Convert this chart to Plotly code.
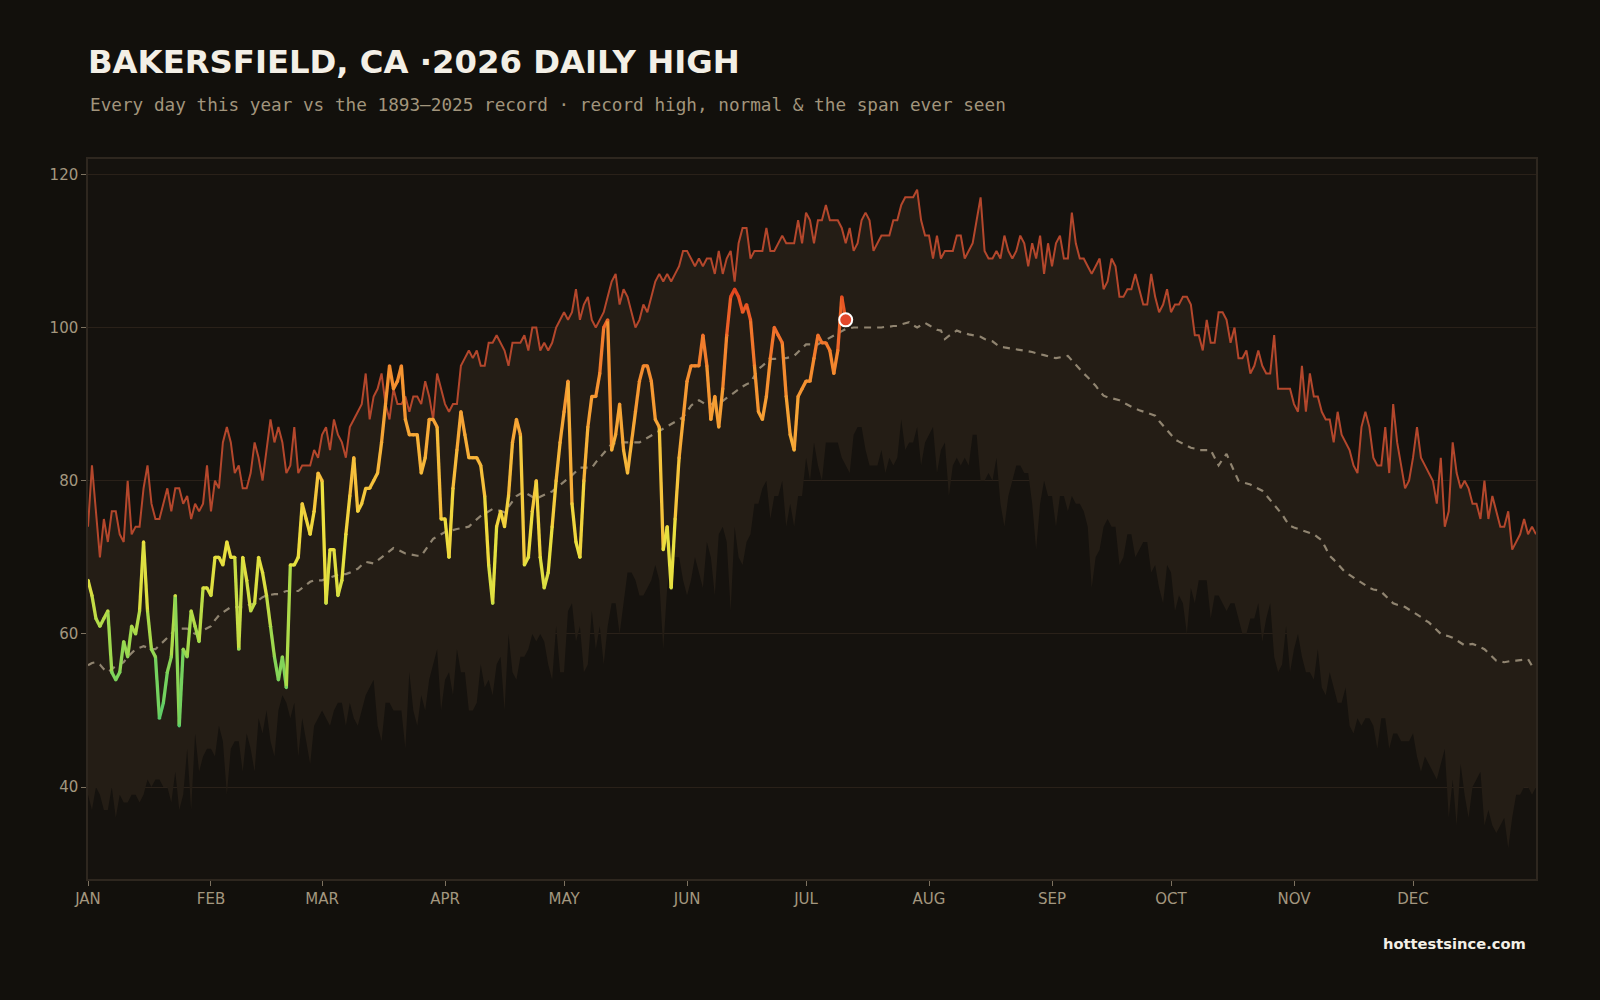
import plotly.graph_objects as go

# ---------------- data ----------------
MONTH_LABELS = ["JAN", "FEB", "MAR", "APR", "MAY", "JUN", "JUL", "AUG", "SEP", "OCT", "NOV", "DEC"]
MONTH_START_DAY = [0, 31, 59, 90, 120, 151, 181, 212, 243, 273, 304, 334]
Y_TICKS = [40, 60, 80, 100, 120]

DAYS = list(range(366))

RECORD_HIGH = [
    74, 82, 76, 70, 75, 72, 76, 76, 73, 72, 80, 73, 74, 74, 79, 82, 77, 75, 75, 77, 79, 76, 79, 79, 77, 78, 75, 77, 76, 77,
    82, 76, 80, 79, 85, 87, 85, 81, 82, 79, 79, 81, 85, 83, 80, 84, 88, 85, 87, 85, 81, 82, 87, 81, 82, 82, 82, 84, 83, 86,
    87, 84, 88, 86, 85, 83, 87, 88, 89, 90, 94, 88, 91, 92, 94, 90, 88, 92, 90, 90, 91, 89, 91, 91, 90, 93, 91, 88, 94, 92,
    90, 89, 90, 90, 95, 96, 97, 96, 97, 95, 95, 98, 98, 99, 98, 97, 95, 98, 98, 98, 99, 97, 100, 100, 97, 98, 97, 98, 100, 101,
    102, 101, 102, 105, 101, 103, 104, 101, 100, 101, 102, 104, 106, 107, 103, 105, 104, 102, 100, 101, 103, 102, 104, 106, 107, 106, 107, 106, 107, 108,
    110, 110, 109, 108, 109, 108, 109, 109, 107, 110, 107, 109, 110, 106, 111, 113, 113, 109, 110, 110, 110, 113, 110, 110, 111, 112, 111, 111, 111, 114,
    111, 115, 114, 111, 114, 114, 116, 114, 114, 114, 113, 111, 113, 110, 111, 114, 115, 114, 110, 111, 112, 112, 112, 114, 114, 116, 117, 117, 117, 118,
    114, 112, 112, 109, 112, 109, 110, 110, 110, 112, 112, 109, 110, 111, 114, 117, 110, 109, 109, 110, 109, 112, 110, 109, 110, 112, 111, 108, 111, 109,
    112, 107, 111, 108, 111, 112, 109, 109, 115, 111, 109, 109, 108, 107, 108, 109, 105, 106, 109, 108, 104, 104, 105, 105, 107, 105, 103, 103, 107, 104,
    102, 103, 105, 102, 103, 103, 104, 104, 103, 99, 99, 97, 101, 98, 98, 102, 102, 101, 98, 100, 96, 96, 97, 94, 95, 97, 95, 94, 94, 99,
    92, 92, 92, 92, 90, 89, 95, 89, 94, 91, 91, 89, 88, 88, 85, 89, 86, 85, 84, 82, 81, 87, 89, 87, 83, 82, 82, 87, 81, 90,
    85, 82, 79, 80, 83, 87, 83, 82, 81, 80, 77, 83, 74, 76, 85, 81, 79, 80, 79, 77, 77, 75, 80, 75, 78, 76, 74, 74, 76, 71,
    72, 73, 75, 73, 74, 73,
]

RECORD_LOW = [
    39, 37, 40, 39, 37, 37, 40, 36, 39, 38, 38, 39, 39, 38, 39, 41, 40, 41, 41, 40, 40, 38, 42, 37, 39, 45, 37, 47, 42, 44,
    45, 45, 44, 48, 46, 39, 45, 46, 46, 42, 47, 45, 42, 49, 47, 50, 46, 44, 50, 52, 51, 49, 51, 44, 49, 46, 43, 48, 49, 50,
    49, 48, 50, 51, 51, 48, 51, 49, 48, 50, 52, 53, 54, 48, 46, 51, 51, 50, 50, 50, 45, 55, 50, 48, 52, 50, 54, 56, 58, 50,
    54, 55, 52, 58, 55, 55, 50, 50, 51, 56, 53, 54, 52, 56, 57, 50, 60, 55, 54, 57, 57, 58, 60, 59, 60, 59, 56, 54, 61, 55,
    55, 63, 64, 59, 61, 55, 56, 63, 58, 61, 56, 61, 64, 64, 60, 64, 68, 68, 67, 65, 65, 66, 67, 69, 67, 58, 66, 70, 70, 70,
    67, 65, 67, 70, 68, 66, 72, 70, 65, 73, 74, 72, 63, 74, 70, 69, 72, 73, 77, 77, 79, 80, 75, 78, 78, 80, 74, 77, 74, 78,
    78, 83, 80, 85, 82, 80, 85, 85, 85, 85, 83, 82, 81, 86, 87, 87, 84, 82, 82, 82, 84, 81, 83, 82, 83, 88, 84, 85, 85, 87,
    82, 85, 86, 87, 81, 84, 85, 78, 82, 83, 82, 83, 82, 86, 86, 80, 80, 81, 80, 83, 77, 74, 78, 80, 82, 82, 81, 81, 77, 71,
    77, 80, 78, 78, 74, 78, 78, 76, 78, 77, 77, 76, 74, 66, 70, 71, 74, 75, 74, 74, 69, 70, 73, 73, 70, 71, 72, 72, 68, 69,
    66, 64, 69, 68, 63, 65, 64, 60, 66, 64, 67, 67, 67, 62, 65, 65, 64, 63, 64, 64, 62, 60, 60, 62, 62, 64, 59, 62, 64, 57,
    55, 56, 61, 55, 58, 60, 57, 55, 55, 54, 58, 53, 52, 55, 53, 51, 51, 53, 48, 47, 49, 48, 49, 49, 48, 45, 49, 49, 45, 47,
    47, 46, 46, 46, 47, 44, 42, 44, 43, 42, 41, 43, 45, 36, 41, 35, 43, 39, 36, 40, 41, 42, 35, 37, 35, 34, 35, 36, 32, 36,
    39, 39, 40, 40, 39, 40,
]

NORMAL = [
    55.9, 56.2, 56.3, 56.0, 55.4, 55.0, 55.4, 55.8, 56.0, 56.3, 57.0, 57.5, 58.0, 58.2, 58.4, 58.2, 58.0, 58.0, 58.5, 59.0,
    59.4, 60.0, 60.7, 60.7, 60.7, 60.7, 60.3, 60.0, 60.2, 60.5, 60.8, 61.0, 61.8, 62.4, 62.8, 63.2, 63.5, 63.5, 63.5, 63.5,
    63.7, 63.9, 64.0, 64.4, 64.8, 65.0, 65.1, 65.2, 65.2, 65.4, 65.6, 65.6, 65.6, 65.6, 66.0, 66.4, 66.8, 67.0, 67.0, 67.0,
    67.2, 67.4, 67.6, 67.7, 67.8, 67.8, 68.0, 68.3, 68.5, 69.0, 69.4, 69.3, 69.2, 69.6, 70.0, 70.4, 70.8, 71.2, 71.0, 70.7,
    70.5, 70.4, 70.3, 70.2, 70.2, 70.9, 71.7, 72.4, 72.7, 73.0, 73.3, 73.4, 73.6, 73.7, 73.8, 73.9, 74.0, 74.5, 75.0, 75.4,
    75.7, 76.0, 76.3, 76.2, 76.0, 75.9, 76.6, 77.3, 78.0, 78.3, 78.5, 78.2, 77.9, 77.6, 77.9, 78.2, 78.4, 78.6, 79.0, 79.4,
    79.8, 80.2, 80.7, 81.2, 81.7, 81.7, 81.7, 81.7, 82.4, 83.0, 83.7, 84.2, 84.8, 84.9, 85.0, 85.0, 85.0, 85.0, 85.0, 85.0,
    85.3, 85.6, 85.9, 86.2, 86.5, 86.8, 87.1, 87.4, 87.7, 88.0, 88.3, 89.0, 89.8, 90.2, 90.5, 90.2, 89.8, 90.0, 90.1, 90.3,
    90.4, 90.8, 91.2, 91.6, 92.0, 92.3, 92.6, 92.8, 93.7, 94.6, 95.0, 95.5, 95.9, 95.9, 96.0, 96.0, 96.0, 96.2, 96.3, 96.8,
    97.3, 97.8, 97.8, 97.8, 97.8, 98.1, 98.4, 98.7, 98.9, 99.2, 99.5, 99.8, 99.9, 100.0, 100.0, 100.0, 100.0, 100.0, 100.0, 100.0,
    100.0, 100.1, 100.1, 100.2, 100.2, 100.4, 100.6, 100.7, 100.3, 100.0, 100.3, 100.6, 100.3, 100.0, 99.7, 99.6, 98.5, 98.9, 99.3, 99.6,
    99.4, 99.2, 99.1, 99.0, 98.9, 98.8, 98.5, 98.3, 98.2, 97.8, 97.5, 97.4, 97.3, 97.2, 97.1, 97.0, 96.9, 96.9, 96.8, 96.6,
    96.5, 96.4, 96.2, 96.1, 96.0, 96.1, 96.2, 96.3, 95.7, 95.1, 94.5, 94.0, 93.5, 93.0, 92.4, 91.7, 91.1, 90.9, 90.8, 90.6,
    90.5, 90.2, 89.9, 89.6, 89.4, 89.2, 89.0, 88.8, 88.7, 88.5, 87.8, 87.2, 86.5, 86.0, 85.4, 85.1, 84.8, 84.5, 84.3, 84.2,
    84.0, 84.0, 84.0, 84.0, 83.0, 82.0, 82.8, 83.5, 82.3, 81.2, 80.0, 79.8, 79.7, 79.5, 79.2, 79.0, 78.7, 78.1, 77.5, 76.9,
    76.3, 75.6, 74.8, 74.1, 73.9, 73.7, 73.5, 73.3, 73.2, 73.0, 72.6, 72.2, 71.2, 70.2, 69.7, 69.1, 68.6, 68.0, 67.7, 67.3,
    67.0, 66.7, 66.3, 66.0, 65.8, 65.7, 65.5, 65.0, 64.5, 64.0, 63.8, 63.7, 63.5, 63.2, 62.8, 62.5, 62.2, 61.8, 61.5, 61.0,
    60.5, 60.0, 59.8, 59.7, 59.5, 59.2, 58.8, 58.5, 58.6, 58.7, 58.5, 58.2, 58.0, 57.5, 57.0, 56.5, 56.4, 56.3, 56.4, 56.5,
    56.5, 56.6, 56.6, 56.7, 55.8, 55.5,
]

THIS_YEAR = [
    67, 65, 62, 61, 62, 63, 55, 54, 55, 59, 57, 61, 60, 63, 72, 63, 58, 57, 49, 51, 55, 57, 65, 48, 58, 57, 63, 61, 59, 66,
    66, 65, 70, 70, 69, 72, 70, 70, 58, 70, 67, 63, 64, 70, 68, 65, 61, 57, 54, 57, 53, 69, 69, 70, 77, 75, 73, 76, 81, 80,
    64, 71, 71, 65, 67, 73, 78, 83, 76, 77, 79, 79, 80, 81, 85, 90, 95, 92, 93, 95, 88, 86, 86, 86, 81, 83, 88, 88, 87, 75,
    75, 70, 79, 84, 89, 86, 83, 83, 83, 82, 78, 69, 64, 74, 76, 74, 78, 85, 88, 86, 69, 70, 76, 80, 70, 66, 68, 74, 80, 85,
    89, 93, 77, 72, 70, 80, 87, 91, 91, 94, 100, 101, 84, 86, 90, 84, 81, 85, 89, 93, 95, 95, 93, 88, 87, 71, 74, 66, 75, 83,
    88, 93, 95, 95, 95, 99, 95, 88, 91, 87, 92, 99, 104, 105, 104, 102, 103, 101, 95, 89, 88, 91, 96, 100, 99, 98, 91, 86, 84, 91,
    92, 93, 93, 96, 99, 98, 98, 97, 94, 97, 104, 101,
]
THIS_YEAR_DAYS = DAYS[:len(THIS_YEAR)]

# ---------------- styling ----------------
PAPER = "#12100c"
PLOT_BG = "#15120e"
BAND = "#241d15"
REC_HIGH_COLOR = "#b4472c"
NORMAL_COLOR = "#a39780"
TICK_COLOR = "#a3977f"
TITLE_COLOR = "#f3efe6"

# temperature -> colour stops for the current-year line
COLOR_STOPS = [
    (47, (78, 201, 112)), (54, (122, 211, 92)), (60, (165, 218, 75)), (66, (217, 223, 66)),
    (72, (237, 224, 63)), (78, (245, 200, 61)), (84, (247, 176, 57)), (90, (246, 156, 51)),
    (95, (244, 137, 47)), (100, (239, 106, 42)), (105, (226, 68, 31)),
]


def temp_color(v):
    if v <= COLOR_STOPS[0][0]:
        c = COLOR_STOPS[0][1]
    elif v >= COLOR_STOPS[-1][0]:
        c = COLOR_STOPS[-1][1]
    else:
        for (v0, c0), (v1, c1) in zip(COLOR_STOPS[:-1], COLOR_STOPS[1:]):
            if v0 <= v <= v1:
                t = (v - v0) / (v1 - v0)
                c = tuple(round(a + (b - a) * t) for a, b in zip(c0, c1))
                break
    return "rgb(%d,%d,%d)" % c


fig = go.Figure()

# record span band (record low -> record high)
fig.add_trace(go.Scatter(
    x=DAYS, y=RECORD_LOW, mode="lines",
    line=dict(width=0, color="rgba(0,0,0,0)"),
    hoverinfo="skip", showlegend=False,
))
fig.add_trace(go.Scatter(
    x=DAYS, y=RECORD_HIGH, mode="lines", fill="tonexty", fillcolor=BAND,
    line=dict(color=REC_HIGH_COLOR, width=2),
    hoverinfo="skip", showlegend=False,
))

# normal
fig.add_trace(go.Scatter(
    x=DAYS, y=NORMAL, mode="lines",
    line=dict(color=NORMAL_COLOR, width=2.2, dash="7px,6px"),
    opacity=0.85,
    hoverinfo="skip", showlegend=False,
))

# this year, coloured segment by segment
LINE_W = 3.3
for i in range(len(THIS_YEAR) - 1):
    a, b = THIS_YEAR[i], THIS_YEAR[i + 1]
    fig.add_trace(go.Scatter(
        x=THIS_YEAR_DAYS[i:i + 2], y=THIS_YEAR[i:i + 2], mode="lines",
        line=dict(color=temp_color((a + b) / 2), width=LINE_W),
        hoverinfo="skip", showlegend=False,
    ))
fig.add_trace(go.Scatter(
    x=THIS_YEAR_DAYS, y=THIS_YEAR, mode="markers",
    marker=dict(size=LINE_W, color=[temp_color(v) for v in THIS_YEAR], line=dict(width=0)),
    hoverinfo="skip", showlegend=False,
))

# latest day marker
fig.add_trace(go.Scatter(
    x=THIS_YEAR_DAYS[-1:], y=THIS_YEAR[-1:], mode="markers",
    marker=dict(size=13, color="#e2472b", line=dict(color="#ffffff", width=2)),
    hoverinfo="skip", showlegend=False,
))

PLOT_L, PLOT_R, PLOT_T, PLOT_B = 88, 1536, 159, 879
PLOT_H = PLOT_B - PLOT_T
PLOT_W = PLOT_R - PLOT_L

fig.update_layout(
    width=1600, height=1000,
    paper_bgcolor=PAPER, plot_bgcolor=PLOT_BG,
    margin=dict(l=PLOT_L, r=1600 - PLOT_R, t=PLOT_T, b=1000 - PLOT_B, pad=0),
    showlegend=False,
    hovermode=False,
    title=dict(
        text="BAKERSFIELD, CA ·2026 DAILY HIGH",
        x=PLOT_L / 1600, xref="container", xanchor="left",
        y=1 - 62 / 1000, yref="container", yanchor="middle",
        font=dict(family="DejaVu Sans", size=32.3, color=TITLE_COLOR, weight=700),
    ),
    annotations=[
        dict(
            text="Every day this year vs the 1893–2025 record · record high, normal & the span ever seen",
            x=0, xref="paper", xanchor="left",
            y=1 + (PLOT_T - 105) / PLOT_H, yref="paper", yanchor="middle",
            showarrow=False,
            font=dict(family="DejaVu Sans Mono", size=17.7, color="#a2957c"),
        ),
        dict(
            text="<b>hottestsince.com</b>",
            x=(1528 - PLOT_L) / PLOT_W, xref="paper", xanchor="right",
            y=-(944 - PLOT_B) / PLOT_H, yref="paper", yanchor="middle",
            showarrow=False,
            font=dict(family="DejaVu Sans", size=14.7, color=TITLE_COLOR),
        ),
    ],
    xaxis=dict(
        range=[0, 365], tickmode="array", tickvals=MONTH_START_DAY, ticktext=MONTH_LABELS,
        ticks="outside", ticklen=5, tickwidth=1, tickcolor="#7d7260",
        showgrid=False, zeroline=False,
        showline=True, linecolor="#2e271f", linewidth=1.5, mirror=True,
        tickfont=dict(family="DejaVu Sans", size=15, color=TICK_COLOR),
    ),
    yaxis=dict(
        range=[28, 122], tickmode="array", tickvals=Y_TICKS,
        ticks="outside", ticklen=5, tickwidth=1, tickcolor="#7d7260",
        showgrid=True, gridcolor="#2a2119", gridwidth=1, zeroline=False,
        showline=True, linecolor="#2e271f", linewidth=1.5, mirror=True,
        tickfont=dict(family="DejaVu Sans", size=15, color=TICK_COLOR),
    ),
)

fig.write_html("out.html")
